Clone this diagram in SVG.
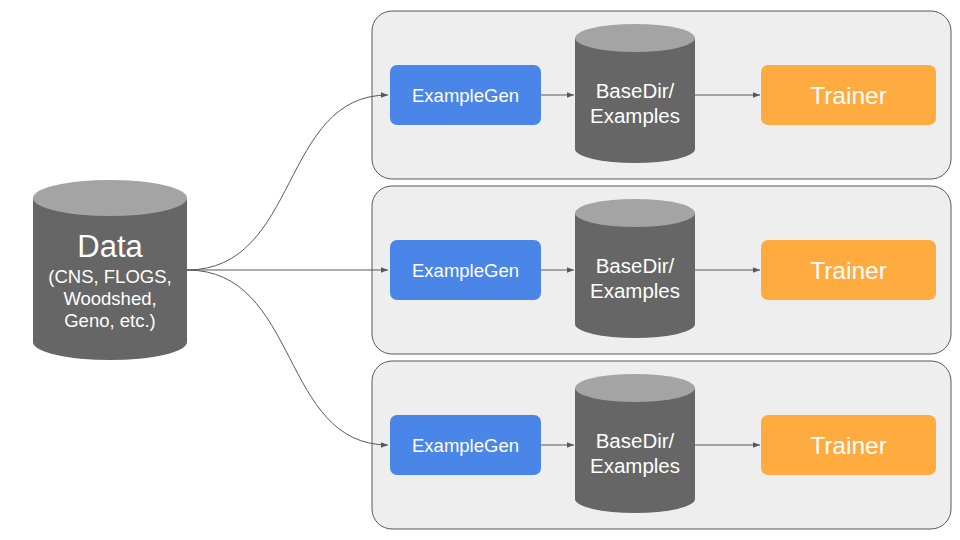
<svg xmlns="http://www.w3.org/2000/svg" width="960" height="540" viewBox="0 0 960 540">
<defs>
<style>
.panel{fill:#eeeeee;stroke:#595959;stroke-width:1}
.gen{fill:#4a86e8}
.tr{fill:#ffab40}
.body{fill:#666666}
.top{fill:#a4a4a4}
.t{font-family:"Liberation Sans",Arial,sans-serif;fill:#ffffff;text-anchor:middle}
.c{fill:none;stroke:#595959;stroke-width:1}
</style>
<marker id="ar" viewBox="0 0 10 10" refX="10" refY="5" markerWidth="7" markerHeight="7" orient="auto" markerUnits="userSpaceOnUse">
<path d="M0,1 L10,5 L0,9 z" fill="#595959"/>
</marker>
</defs>
<rect width="960" height="540" fill="#ffffff"/>
<g id="panel1"><rect class="panel" x="372" y="11" width="579" height="168" rx="20"/></g>
<g id="panel2"><rect class="panel" x="372" y="186" width="579" height="168" rx="20"/></g>
<g id="panel3"><rect class="panel" x="372" y="361" width="579" height="168" rx="20"/></g>
<g id="connectors">
<path class="c" d="M187,270 C300,270 280,95 388,95" marker-end="url(#ar)"/>
<path class="c" d="M187,270 L388,270" marker-end="url(#ar)"/>
<path class="c" d="M187,270 C300,270 280,445 388,445" marker-end="url(#ar)"/>
<path class="c" d="M541,95 L574,95" marker-end="url(#ar)"/>
<path class="c" d="M695,95 L760,95" marker-end="url(#ar)"/>
<path class="c" d="M541,270 L574,270" marker-end="url(#ar)"/>
<path class="c" d="M695,270 L760,270" marker-end="url(#ar)"/>
<path class="c" d="M541,445 L574,445" marker-end="url(#ar)"/>
<path class="c" d="M695,445 L760,445" marker-end="url(#ar)"/>
</g>
<g id="data">
<path class="body" d="M33,198 L33,342 A77,18 0 0 0 187,342 L187,198 Z"/>
<ellipse class="top" cx="110" cy="198" rx="77" ry="18"/>
<text class="t" x="110" y="257" font-size="31">Data</text>
<text class="t" x="110" y="283" font-size="18.5">(CNS, FLOGS,</text>
<text class="t" x="110" y="305" font-size="18.5">Woodshed,</text>
<text class="t" x="110" y="327" font-size="18.5">Geno, etc.)</text>
</g>
<g id="examplegen1"><rect class="gen" x="390" y="65" width="151" height="60" rx="7"/><text class="t" x="465.5" y="102" font-size="18.5">ExampleGen</text></g>
<g id="basedir1">
<path class="body" d="M575,38 L575,149 A60,14 0 0 0 695,149 L695,38 Z"/>
<ellipse class="top" cx="635" cy="38" rx="60" ry="14"/>
<text class="t" x="635" y="97.5" font-size="20.5">BaseDir/</text>
<text class="t" x="635" y="123" font-size="20.5">Examples</text>
</g>
<g id="trainer1"><rect class="tr" x="761" y="65" width="175" height="60" rx="7"/><text class="t" x="848.5" y="104" font-size="24.5">Trainer</text></g>
<g id="examplegen2"><rect class="gen" x="390" y="240" width="151" height="60" rx="7"/><text class="t" x="465.5" y="277" font-size="18.5">ExampleGen</text></g>
<g id="basedir2">
<path class="body" d="M575,213 L575,324 A60,14 0 0 0 695,324 L695,213 Z"/>
<ellipse class="top" cx="635" cy="213" rx="60" ry="14"/>
<text class="t" x="635" y="272.5" font-size="20.5">BaseDir/</text>
<text class="t" x="635" y="298" font-size="20.5">Examples</text>
</g>
<g id="trainer2"><rect class="tr" x="761" y="240" width="175" height="60" rx="7"/><text class="t" x="848.5" y="279" font-size="24.5">Trainer</text></g>
<g id="examplegen3"><rect class="gen" x="390" y="415" width="151" height="60" rx="7"/><text class="t" x="465.5" y="452" font-size="18.5">ExampleGen</text></g>
<g id="basedir3">
<path class="body" d="M575,388 L575,499 A60,14 0 0 0 695,499 L695,388 Z"/>
<ellipse class="top" cx="635" cy="388" rx="60" ry="14"/>
<text class="t" x="635" y="447.5" font-size="20.5">BaseDir/</text>
<text class="t" x="635" y="473" font-size="20.5">Examples</text>
</g>
<g id="trainer3"><rect class="tr" x="761" y="415" width="175" height="60" rx="7"/><text class="t" x="848.5" y="454" font-size="24.5">Trainer</text></g>
</svg>
